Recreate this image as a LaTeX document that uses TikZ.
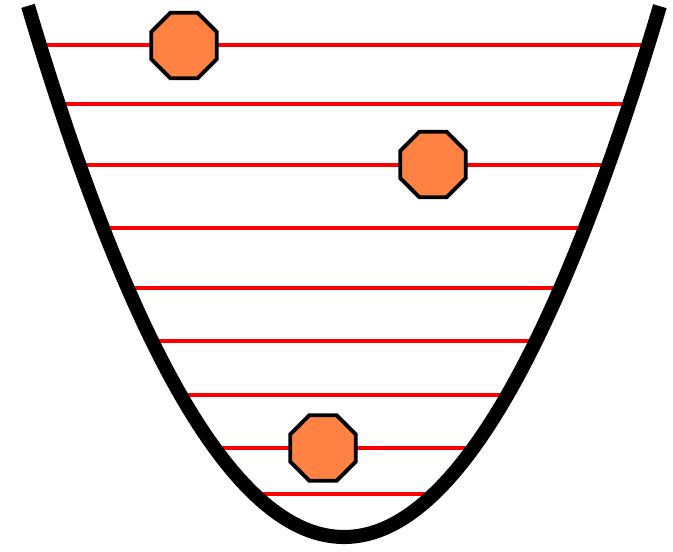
\documentclass[tikz,border=0pt]{standalone}
\usepackage{tikz}
\usepackage{xcolor}
\usetikzlibrary{shapes.geometric}
\definecolor{ballorange}{RGB}{255,130,66}
\tikzstyle{level} = [draw=red, line width=1pt]
\tikzstyle{well} = [draw=black, line width=4pt]
\tikzstyle{ball} = [regular polygon, regular polygon sides=8, minimum size=0.71cm, inner sep=0pt, draw=black, line width=1.1pt, fill=ballorange]

\begin{document}
\begin{tikzpicture}[x=1cm, y=-1cm]
    % Frame of the picture
    \useasboundingbox (0,0) rectangle (6.73,5.51);

    % Energy levels inside the well
    \foreach \y in {0.45,1.04,1.65,2.28,2.88,3.41,3.95,4.48,4.94}
        \draw[level] ({3.44-sqrt(1.88*(5.33-\y))},\y) -- ({3.44+sqrt(1.88*(5.33-\y))},\y);

    % Potential well
    \draw[well] plot[domain=0.28:6.60, samples=120] (\x, {5.37-(\x-3.44)*(\x-3.44)/1.88});

    % Particles
    \node[ball] (ball1) at (1.84,0.455) {};
    \node[ball] (ball2) at (4.33,1.645) {};
    \node[ball] (ball3) at (3.23,4.48) {};
\end{tikzpicture}
\end{document}
